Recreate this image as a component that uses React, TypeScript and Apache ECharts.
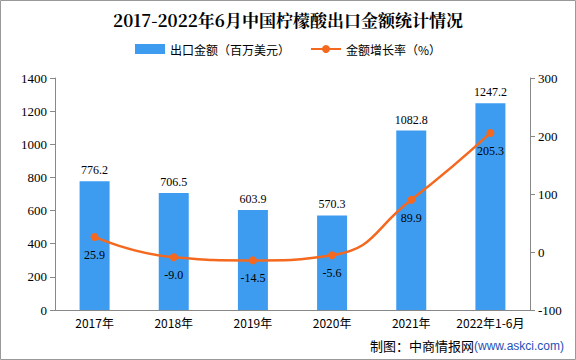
import React, { useEffect, useRef } from "react";
import * as echarts from "echarts";

const categories = ["2017年", "2018年", "2019年", "2020年", "2021年", "2022年1-6月"];
const exportValues = [776.2, 706.5, 603.9, 570.3, 1082.8, 1247.2];
const growthRates = [25.9, -9.0, -14.5, -5.6, 89.9, 205.3];

const FONT = "'Liberation Serif', 'Noto Sans CJK SC', serif";
const CJK = "'Noto Sans CJK SC', sans-serif";

export default function App() {
  const ref = useRef<HTMLDivElement>(null);
  useEffect(() => {
    document.body.style.margin = "0";
    const chart = echarts.init(ref.current!, null, { renderer: "svg" });
    chart.setOption({
      animation: false,
      backgroundColor: "#ffffff",
      title: {
        text: "2017-2022年6月中国柠檬酸出口金额统计情况",
        left: "center",
        top: 6,
        textStyle: { fontSize: 17, fontWeight: "bold", color: "#000", fontFamily: "'Noto Serif CJK SC', 'Liberation Serif', 'Noto Sans CJK SC', serif" },
      },
      legend: {
        top: 38,
        left: "center",
        itemWidth: 30,
        itemHeight: 10,
        itemGap: 20,
        textStyle: { fontSize: 12, color: "#000", fontFamily: CJK },
        data: [
          { name: "出口金额（百万美元）", icon: "rect" },
          { name: "金额增长率（%）" },
        ],
      },
      grid: { left: 55, right: 46, top: 78, bottom: 50 },
      xAxis: {
        type: "category",
        data: categories,
        axisLine: { lineStyle: { color: "#888" } },
        axisTick: { lineStyle: { color: "#888" } },
        axisLabel: { color: "#000", fontSize: 12, fontFamily: CJK, margin: 6, interval: 0 },
      },
      yAxis: [
        {
          type: "value",
          min: 0,
          max: 1400,
          interval: 200,
          axisLine: { show: true, lineStyle: { color: "#888" } },
          axisTick: { show: true, lineStyle: { color: "#888" } },
          splitLine: { show: false },
          axisLabel: { color: "#000", fontSize: 13, fontFamily: FONT, formatter: (v: number) => String(v) },
        },
        {
          type: "value",
          min: -100,
          max: 300,
          interval: 100,
          axisLine: { show: true, lineStyle: { color: "#888" } },
          axisTick: { show: true, lineStyle: { color: "#888" } },
          splitLine: { show: false },
          axisLabel: { color: "#000", fontSize: 13, fontFamily: FONT, formatter: (v: number) => String(v) },
        },
      ],
      series: [
        {
          name: "出口金额（百万美元）",
          type: "bar",
          data: exportValues,
          barWidth: 30,
          itemStyle: { color: "#3d9cf0" },
          label: {
            show: true,
            position: "top",
            color: "#000",
            fontSize: 12,
            fontFamily: FONT,
            formatter: (p: any) => p.value.toFixed(1),
          },
        },
        {
          name: "金额增长率（%）",
          type: "line",
          yAxisIndex: 1,
          data: growthRates,
          smooth: true,
          symbol: "circle",
          symbolSize: 8,
          lineStyle: { color: "#f4691f", width: 2.5 },
          itemStyle: { color: "#f4691f" },
          label: {
            show: true,
            position: "bottom",
            distance: 8,
            color: "#000",
            fontSize: 12,
            fontFamily: FONT,
            formatter: (p: any) => p.value.toFixed(1),
          },
        },
      ],
      graphic: [
        {
          type: "rect",
          shape: { x: 0.5, y: 0.5, width: 575, height: 359 },
          style: { fill: "none", stroke: "#999", lineWidth: 1 },
          silent: true,
        },
        {
          type: "text",
          right: 12,
          bottom: 8,
          style: {
            text: "{a|制图：中商情报网}{b|(www.askci.com)}",
            rich: {
              a: { fontSize: 13, fill: "#000", fontFamily: CJK },
              b: { fontSize: 12, fill: "#1f4fb8", fontFamily: "'Liberation Sans', sans-serif" },
            },
          },
        },
      ],
    });
    return () => chart.dispose();
  }, []);
  return <div ref={ref} style={{ width: 576, height: 360 }} />;
}
